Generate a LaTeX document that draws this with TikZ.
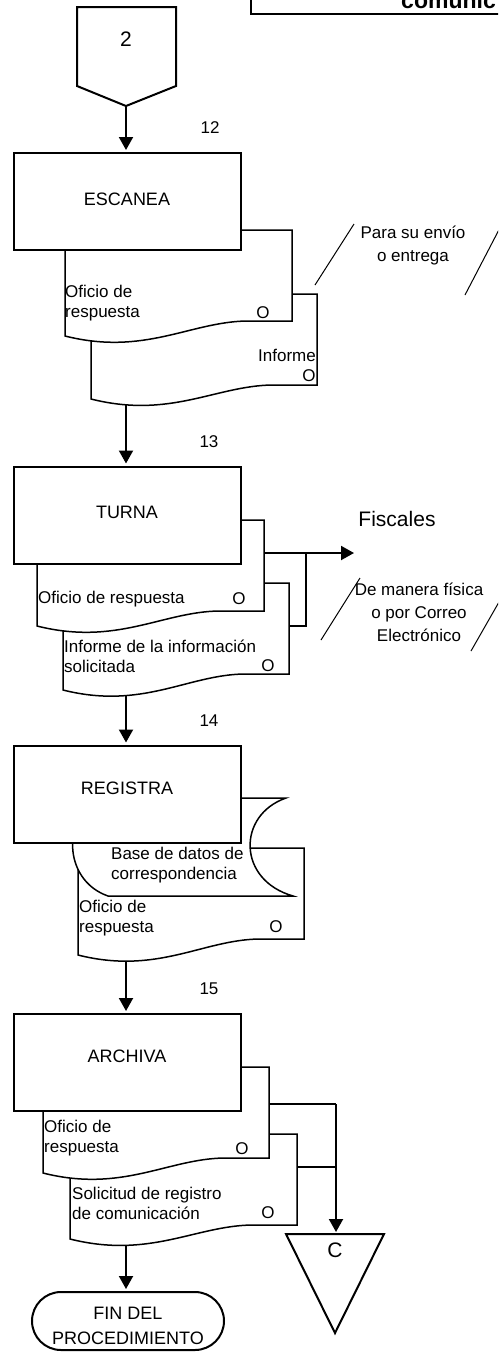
\documentclass[tikz,border=0pt]{standalone}
\usepackage{fontspec}
\setmainfont{Liberation Sans}
\usetikzlibrary{arrows.meta}
\pgfdeclarelayer{bg}
\pgfsetlayers{bg,main}
\newcommand\docshape[5]{% L R T yL yR
  \draw[doc] (#1,#3) -- (#2,#3) -- (#2,#5) -- ({#1+0.8*(#2-#1)},#5)
    .. controls ({#1+0.55*(#2-#1)},{#5+1}) and ({#1+0.35*(#2-#1)},{#4+20}) .. (#1,#4) -- cycle;}
\begin{document}
\begin{tikzpicture}[x=1pt,y=-1pt,
  box/.style={draw,line width=2pt,fill=white,minimum width=227pt,minimum height=97pt,inner sep=0pt},
  doc/.style={draw,line width=1.5pt,fill=white},
  thinline/.style={line width=1.3pt},
  arr/.style={line width=2pt,-{Triangle[width=14pt,length=13pt]},shorten >=2pt},
  note/.style={line width=1pt},
  txt/.style={font=\fontsize{17}{20}\selectfont,inner sep=0pt},
  ntxt/.style={font=\fontsize{17}{23}\selectfont,inner sep=0pt,align=center},
  lbl/.style={font=\fontsize{18}{25}\selectfont,inner sep=0pt,align=center},
  big/.style={font=\fontsize{21}{25}\selectfont,inner sep=0pt}]
\useasboundingbox (0,0) rectangle (498,1352);
\clip (0,0) rectangle (498,1352);

% header box (cut off)
\draw[line width=2pt] (251,-5) -- (251,14) -- (505,14);
\node[font=\fontsize{23}{25}\selectfont\bfseries,inner sep=0pt,anchor=base east] (hdr) at (496,8) {comunic};

% off-page connector 2
\draw[line width=2pt,fill=white] (77,7) -- (176,7) -- (176,86) -- (126,106) -- (77,86) -- cycle;
\coordinate (p2) at (126,106);
\node[big] (n2) at (126,39) {2};

% ---------- 12 ESCANEA ----------
\node[txt] (s12) at (210,128) {12};
\docshape{91}{317}{294}{399}{385}
\docshape{65}{292}{230}{336}{321}
\node[box] (b1) at (127.5,201.5) {};
\node[lbl] (t1) at (127,199) {ESCANEA};
\node[txt,anchor=west,align=left] (o1) at (65,303) {Oficio de\\respuesta};
\node[txt] (o1c) at (263,313) {O};
\node[txt,anchor=east] (i1) at (316,355) {Informe};
\node[txt] (i1c) at (309,376) {O};
\coordinate (e1) at (126,385);
\draw[note] (315,285) -- (354,224);
\draw[note] (465,295) -- (503,222);
\node[ntxt] (n1) at (413,246) {Para su envío\\o entrega};

% ---------- 13 TURNA ----------
\node[txt] (s13) at (209,442) {13};
\docshape{63}{289}{583}{690}{674}
\docshape{37}{264}{520}{626}{611}
\node[box] (b2) at (127.5,515) {};
\node[lbl] (t2) at (127,512) {TURNA};
\node[txt,anchor=west] (o2) at (38,599) {Oficio de respuesta};
\node[txt] (o2c) at (239,599) {O};
\node[txt,anchor=west,align=left] (i2) at (64,656.5) {Informe de la información\\solicitada};
\node[txt] (i2c) at (268,666) {O};
\coordinate (f0) at (250,553);
\coordinate (f1) at (354,553);
\coordinate (g0) at (280,626);
\coordinate (g1) at (306,553);
\coordinate (e2) at (126,675);
\node[font=\fontsize{21}{25}\selectfont,inner sep=0pt] (fis) at (397,519) {Fiscales};
\draw[note] (321,640) -- (360,578);
\draw[note] (471,651) -- (503,595);
\node[ntxt] (n3) at (419,612) {De manera física\\o por Correo\\Electrónico};

% ---------- 14 REGISTRA ----------
\node[txt] (s14) at (209,721) {14};
\docshape{78}{304}{848}{955}{939}
\draw[doc] (101,798) -- (286,798) .. controls (237,815) and (237,880) .. (293,896)
  -- (108,896) .. controls (62,880) and (62,815) .. (101,798) -- cycle;
\node[box] (b3) at (127.5,794) {};
\node[lbl] (t3) at (127,788) {REGISTRA};
\node[txt,anchor=west,align=left] (bd) at (111,865.5) {Base de datos de\\correspondencia};
\node[txt,anchor=west,align=left] (o3) at (79,918) {Oficio de\\respuesta};
\node[txt] (o3c) at (276,927) {O};
\coordinate (e3) at (126,940);

% ---------- 15 ARCHIVA ----------
\node[txt] (s15) at (209,989) {15};
\docshape{70}{297}{1134}{1239}{1225}
\docshape{43}{269}{1067}{1173}{1158}
\node[box] (b4) at (127.5,1062.5) {};
\node[lbl] (t4) at (127,1056) {ARCHIVA};
\node[txt,anchor=west,align=left] (o4) at (44,1138.5) {Oficio de\\respuesta};
\node[txt] (o4c) at (242,1149) {O};
\node[txt,anchor=west,align=left] (i4) at (72,1203) {Solicitud de registro\\de comunicación};
\node[txt] (i4c) at (268,1213) {O};
\coordinate (h0) at (260,1104);
\coordinate (h1) at (336,1104);
\coordinate (k0) at (290,1167);
\coordinate (k1) at (336,1167);
\coordinate (e4) at (126,1225);

% connector C
\draw[line width=2pt,fill=white] (286,1234) -- (384,1234) -- (335,1333) -- cycle;
\coordinate (ctop) at (336,1234);
\node[big] (cc) at (335,1250) {C};

% end terminal
\node[draw,line width=2pt,fill=white,rounded corners=29pt,minimum width=192pt,minimum height=58pt,inner sep=0pt] (fin) at (128,1321) {};
\node[lbl] (fint) at (128,1325.5) {FIN DEL\\PROCEDIMIENTO};

% ---------- connectors ----------
\begin{pgfonlayer}{bg}
\draw[arr] (p2) -- (p2 |- b1.north);
\draw[arr] (e1) -- (e1 |- b2.north);
\draw[arr] (e2) -- (e2 |- b3.north);
\draw[arr] (e3) -- (e3 |- b4.north);
\draw[arr] (e4) -- (e4 |- fin.north);
\draw[line width=2pt,-{Triangle[width=14pt,length=13pt]}] (f0) -- (f1);
\draw[thinline] (g0) -| (g1);
\draw[thinline] (h0) -- (h1);
\draw[thinline] (k0) -- (k1);
\draw[line width=2pt,-{Triangle[width=14pt,length=13pt]},shorten >=2pt] (h1) -- (ctop);
\end{pgfonlayer}
\end{tikzpicture}
\end{document}
